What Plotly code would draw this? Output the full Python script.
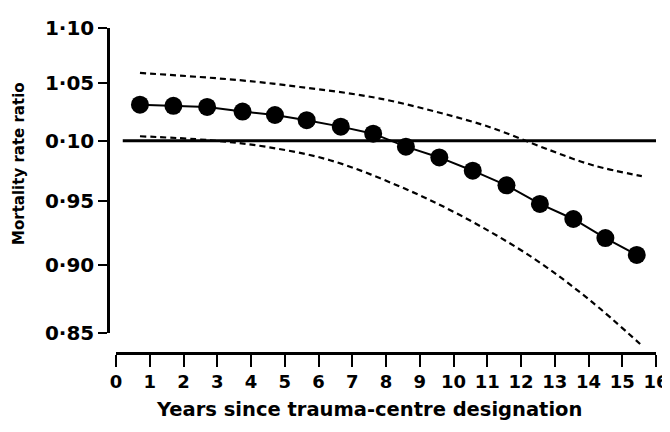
import math
import plotly.graph_objects as go

# ---- data ----
years = [0.71, 1.70, 2.70, 3.75, 4.71, 5.65, 6.66, 7.62, 8.59, 9.58,
         10.57, 11.57, 12.56, 13.55, 14.50, 15.43]
rate_ratio = [1.031, 1.030, 1.029, 1.025, 1.022, 1.0175, 1.012, 1.006, 0.995, 0.986,
              0.975, 0.963, 0.948, 0.936, 0.921, 0.908]

upper_x = [0.71, 3.67, 5.45, 7.82, 10.59, 11.47, 12.86, 14.13, 15.58]
upper_y = [1.059, 1.0525, 1.0465, 1.0363, 1.016, 1.0075, 0.992, 0.9795, 0.9705]

lower_x = [0.71, 2.79, 4.47, 6.34, 8.32, 10.19, 12.36, 14.04, 15.53]
lower_y = [1.0038, 1.0004, 0.9948, 0.9837, 0.9631, 0.9391, 0.9056, 0.8739, 0.8421]

ref_x = [0.2, 16.0]
ref_y = [1.0, 1.0]

x_ticks = list(range(0, 17))
y_tickvals = [0.85, 0.90, 0.95, 1.00, 1.05, 1.10]
y_ticktext = ["0·85", "0·90", "0·95", "0·10", "1·05", "1·10"]

x_title = "Years since trauma-centre designation"
y_title = "Mortality rate ratio"

# ---- figure (page has an 8px body margin, so work in page px minus 8) ----
OFF = 8
W, H = 670 - OFF, 432 - 2 * OFF
L, R, T = 108 - OFF, 10, 28 - OFF
plot_bottom_page = 352
B = H - (plot_bottom_page - OFF)
pw = W - L - R
ph = H - T - B
plot_left_page = L + OFF

y2_dom0 = (plot_bottom_page - 333) / ph
top_log = math.log10(1.10)
k = (1 - y2_dom0) * ph / (top_log - math.log10(0.85))
bottom_log = top_log - ph / k

fig = go.Figure()

dash = "6px,4px"
fig.add_trace(go.Scatter(x=upper_x, y=upper_y, mode="lines", line=dict(color="black", width=2.2, dash=dash, shape="spline"), hoverinfo="skip"))
fig.add_trace(go.Scatter(x=lower_x, y=lower_y, mode="lines", line=dict(color="black", width=2.2, dash=dash, shape="spline"), hoverinfo="skip"))
fig.add_trace(go.Scatter(x=ref_x, y=ref_y, mode="lines", line=dict(color="black", width=3), yaxis="y2", hoverinfo="skip"))
fig.add_trace(go.Scatter(x=years, y=rate_ratio, mode="lines+markers",
                         line=dict(color="black", width=2),
                         marker=dict(color="black", size=18), cliponaxis=False))

font_family = "DejaVu Sans"
fig.update_layout(
    width=W, height=H,
    margin=dict(l=L, r=R, t=T, b=B, autoexpand=False),
    paper_bgcolor="white", plot_bgcolor="rgba(0,0,0,0)",
    showlegend=False,
    xaxis=dict(
        domain=[(116 - plot_left_page) / pw, (656 - plot_left_page) / pw], automargin=False,
        range=[0, 16], showgrid=False, zeroline=False,
        showline=True, linecolor="black", linewidth=2.5,
        ticks="outside", ticklen=12, tickwidth=2, tickcolor="black",
        tickmode="array", tickvals=x_ticks, ticktext=[str(v) for v in x_ticks],
        tickfont=dict(family=font_family, size=18, color="black", weight="bold"),
        anchor="y",
    ),
    yaxis=dict(
        type="log", domain=[0, 1], range=[bottom_log, top_log], visible=False, automargin=False,
    ),
    yaxis2=dict(
        type="log", domain=[y2_dom0, 1], range=[math.log10(0.85), top_log],
        anchor="free", position=0, showgrid=False, zeroline=False, automargin=False,
        showline=True, linecolor="black", linewidth=2.5,
        ticks="outside", ticklen=9, tickwidth=2, tickcolor="black",
        tickmode="array", tickvals=y_tickvals, ticktext=y_ticktext,
        tickfont=dict(family=font_family, size=20, color="black", weight="bold"),
    ),
    annotations=[
        dict(text=x_title, xref="paper", yref="paper",
             x=(369 - plot_left_page) / pw, y=(plot_bottom_page - 410) / ph,
             showarrow=False, xanchor="center", yanchor="middle",
             font=dict(family=font_family, size=19.5, color="black", weight="bold")),
        dict(text=y_title, xref="paper", yref="paper",
             x=(19 - plot_left_page) / pw, y=(plot_bottom_page - 164) / ph,
             showarrow=False, xanchor="center", yanchor="middle", textangle=-90,
             font=dict(family=font_family, size=15, color="black", weight="bold")),
    ],
)

fig.write_html("out.html")
